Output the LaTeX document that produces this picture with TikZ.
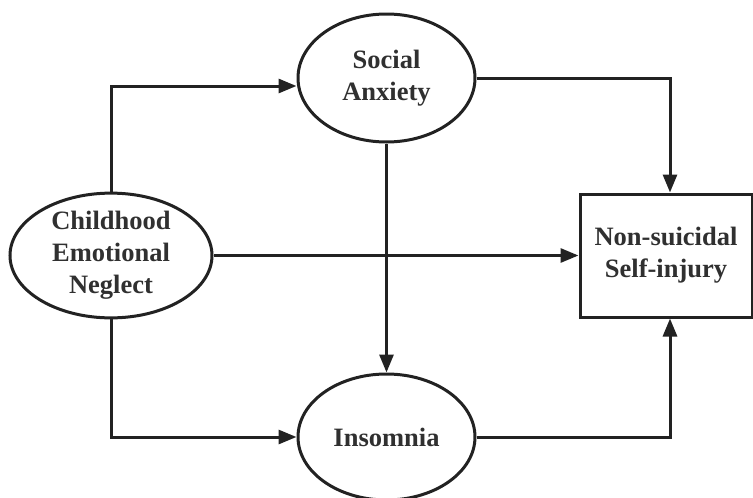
\documentclass[tikz,border=0pt]{standalone}
\usepackage{fontspec}
\setmainfont{Liberation Serif}
\usetikzlibrary{shapes.geometric,arrows.meta}
\definecolor{ink}{HTML}{222222}
\definecolor{txt}{HTML}{303030}
\tikzset{
  lbl/.style={font=\fontsize{26.5}{32}\selectfont\bfseries, text=txt, align=center, inner sep=0pt},
  oval/.style={lbl, ellipse, draw=ink, line width=3pt, fill=white},
  rectbox/.style={lbl, rectangle, draw=ink, line width=3pt, fill=white},
  arr/.style={draw=ink, line width=3pt, -{Triangle[length=18pt,width=14pt]}},
}
\begin{document}
\begin{tikzpicture}[x=1pt,y=-1pt]
\useasboundingbox (0,0) rectangle (753,498);
\node[oval, minimum width=202pt, minimum height=115pt] (ce) at (111,255.5) {Childhood\\Emotional\\Neglect};
\node[oval, minimum width=177pt, minimum height=128pt] (sa) at (386.5,78) {Social\\Anxiety};
\node[oval, minimum width=177pt, minimum height=126pt] (ins) at (386.5,437) {Insomnia};
\node[rectbox, minimum width=172pt, minimum height=123pt] (nssi) at (666,255.5) {Non-suicidal\\Self-injury};
\draw[arr] (ce.north) |- ([yshift=-8pt]sa.west);
\draw[arr] (ce.south) |- (ins.west);
\draw[arr] (ce.east) -- (nssi.west);
\draw[arr] (sa.south) -- (ins.north);
\draw[arr] (sa.east) -| ([xshift=4pt]nssi.north);
\draw[arr] (ins.east) -| ([xshift=4pt]nssi.south);
\end{tikzpicture}
\end{document}
